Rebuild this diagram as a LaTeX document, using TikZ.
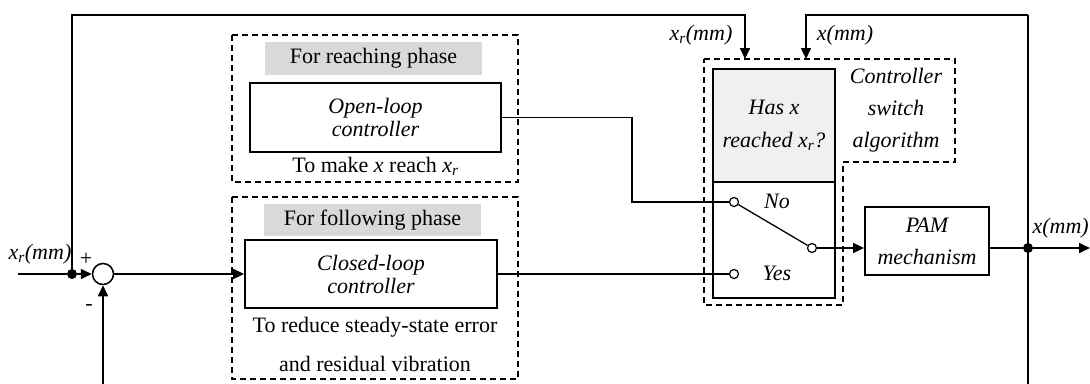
\documentclass[tikz,border=0pt]{standalone}
\usepackage{fontspec}
\setmainfont{Liberation Serif}
\usetikzlibrary{arrows.meta,positioning}
\newcommand{\xrsym}{\textit{x}\textsubscript{\textit{r}}}
\definecolor{tagfill}{HTML}{D9D9D9}
\definecolor{testfill}{HTML}{F0F0F0}
\begin{document}
\begin{tikzpicture}[x=1pt,y=-1pt,
  every node/.style={font=\fontsize{22}{23}\selectfont},
  block/.style={draw,line width=1.8pt,align=center,inner sep=0pt,
    font=\fontsize{22}{23}\selectfont\itshape},
  tag/.style={fill=tagfill,inner sep=0pt,minimum width=217pt,minimum height=33pt},
  frame/.style={draw,line width=1.5pt,dash pattern=on 6pt off 4pt},
  sig/.style={line width=1.6pt,-{Triangle[length=11pt,width=10pt]}},
  wire/.style={line width=1.3pt},
  contact/.style={circle,draw,line width=1.2pt,fill=white,inner sep=0pt,minimum size=9pt},
  junction/.style={circle,fill,inner sep=0pt,minimum size=10pt},
  lbl/.style={font=\fontsize{22}{23}\selectfont\itshape}]
\useasboundingbox (0,0) rectangle (1090,383);

% phase frames
\draw[frame] (232,35) rectangle (518,182);
\draw[frame] (232,197) rectangle (518,379);
\draw[frame] (704,59) -- (955,59) -- (955,162) -- (843,162) -- (843,305) -- (704,305) -- cycle;

% reaching phase
\node[tag] (reachtag) at (373.5,58.5) {For reaching phase};
\node[block,minimum width=251pt,minimum height=69pt] (open) at (375.5,117.5) {Open-loop\\controller};
\node (reachnote) at (375.5,166) {To make \textit{x} reach \xrsym};

% following phase
\node[tag,minimum height=32pt] (followtag) at (372.5,220) {For following phase};
\node[block,minimum width=252pt,minimum height=68pt] (closed) at (371,274) {Closed-loop\\controller};
\node (follownote1) at (375,327) {To reduce steady-state error};
\node (follownote2) at (375,364) {and residual vibration};

% controller switch
\node[block,fill=testfill,minimum width=122pt,minimum height=113pt,
  font=\fontsize{22}{33}\selectfont\itshape] (test) at (774,125.5) {Has x\\reached \xrsym?};
\node[block,minimum width=122pt,minimum height=116pt] (switchbox) at (774,240) {};
\node[align=center,font=\fontsize{22}{32}\selectfont\itshape] (switchname) at (896,110) {Controller\\switch\\algorithm};
\node[contact] (no) at (734,202) {};
\node[contact] (yes) at (734,274) {};
\node[contact] (swout) at (812,248) {};
\node[lbl] (nolabel) at (777,201) {No};
\node[lbl] (yeslabel) at (777,273) {Yes};
\draw[wire] (no) -- (swout);

% plant
\node[block,minimum width=124pt,minimum height=68pt,
  font=\fontsize{22}{32}\selectfont\itshape] (pam) at (927,241) {PAM\\mechanism};

% summing junction and signals
\node[circle,draw,line width=1.5pt,minimum size=21pt,inner sep=0pt] (sum) at (103,274) {};
\coordinate (input) at (18,274);
\node[junction] (insplit) at (72,274) {};
\node[junction] (outsplit) at (1028,248) {};
\coordinate (output) at (1090,248);
\coordinate (topleft) at (72,15);
\coordinate (topright) at (1028,15);
\coordinate (bottomleft) at (103,384);
\coordinate (bottomright) at (1028,384);

\draw[wire] (input) -- (insplit);
\draw[sig] (insplit) -- (sum);
\draw[sig] (sum) -- (closed);
\draw[sig] (bottomleft) -- (sum);
\draw[sig] (insplit) -- (topleft) -- (745,15) -- (745,59);
\draw[sig] (topright) -- (806,15) -- (806,59);
\draw[wire] (topright) -- (bottomright);
\draw[wire] (open.east) -- (632,117.5) -- (632,202) -- (no);
\draw[wire] (closed.east) -- (yes);
\draw[sig] (swout) -- (pam.west |- swout);
\draw[wire] (pam.east |- outsplit) -- (outsplit);
\draw[sig] (outsplit) -- (output);

% labels
\node[lbl] (inlabel) at (40,254) {x\textsubscript{r}(mm)};
\node[font=\fontsize{22}{22}\selectfont] (plus) at (86,259) {+};
\node[font=\fontsize{22}{22}\selectfont] (minus) at (89,307) {-};
\node[lbl] (reflabel) at (701,35) {x\textsubscript{r}(mm)};
\node[lbl] (poslabel) at (845,35) {x(mm)};
\node[lbl,anchor=east,inner xsep=1pt] (outlabel) at (1090,228) {x(mm)};
\end{tikzpicture}
\end{document}
